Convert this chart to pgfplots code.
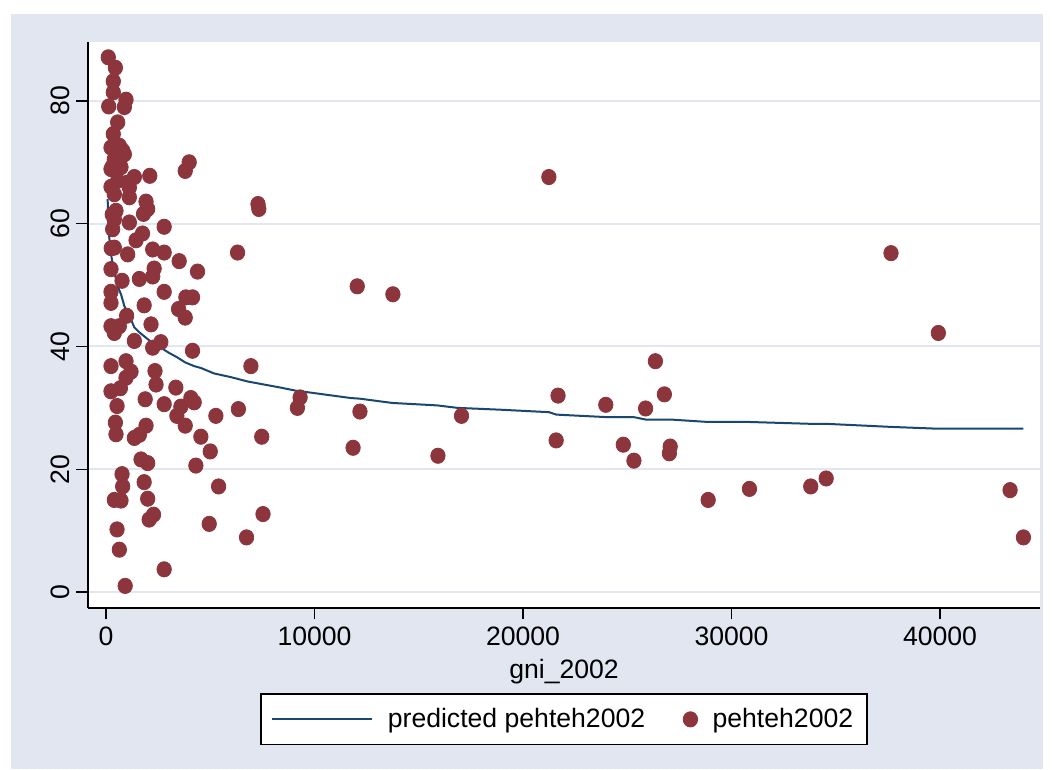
\documentclass[border=0pt]{standalone}
\usepackage{fontspec}
\setmainfont{Liberation Sans}
\usepackage{pgfplots}
\pgfplotsset{compat=1.18}
\pgfplotsset{mylegline/.style={legend image code/.code={\draw[##1] (0pt,0pt) -- (50pt,0pt);}}}
\definecolor{bgc}{RGB}{225,230,240}
\definecolor{navyc}{RGB}{26,71,111}
\definecolor{maroonc}{RGB}{140,53,60}
\begin{document}
\begin{tikzpicture}[font=\fontsize{13.3}{15.5}\selectfont]
\fill[white] (0,0) rectangle (526pt,384.5pt);
\fill[bgc] (5.5pt,0) rectangle (521.5pt,377.5pt);
\begin{axis}[
  at={(44pt,80.5pt)}, anchor=south west,
  scale only axis, width=476pt, height=283pt,
  xmin=-863, xmax=44796, ymin=-2.6, ymax=89.6,
  axis background/.style={fill=white},
  axis x line*=bottom, axis y line*=left,
  axis line style={line width=0.75pt, black},
  tick align=outside, major tick length=5.75pt,
  every tick/.style={line width=0.75pt, black},
  xtick={0,10000,20000,30000,40000},
  ytick={0,20,40,60,80},
  scaled x ticks=false,
  /pgf/number format/assume math mode=true,
  /pgf/number format/set thousands separator={},
  yticklabel style={rotate=90, anchor=south},
  ymajorgrids, grid style={bgc, line width=1pt},
  xlabel={gni\_2002},
  legend style={at={(0.5,-0.151)}, anchor=north, draw=black, line width=0.75pt, fill=white,
    inner xsep=5pt, inner ysep=5pt,
    legend columns=2,
    /tikz/every odd column/.append style={column sep=5.5pt},
    /tikz/every even column/.append style={column sep=17pt}},
  legend cell align=left,
]
\addplot[navyc, line width=1pt, mylegline] coordinates {
(80,64.0) (110,60.5) (150,58.0) (240,55.0) (320,53.5) (400,52.0) (480,51.0) (560,49.8)
(720,48.5) (880,46.6) (1040,45.5) (1200,44.4) (1360,43.1) (1600,42.3) (2000,41.2)
(2300,40.4) (2630,39.8) (3000,39.0) (3430,38.2) (3800,37.4) (4230,36.8) (4550,36.5)
(5190,35.6) (6000,35.0) (6790,34.3) (7420,33.9) (8380,33.3) (9100,32.8) (10000,32.4)
(11740,31.6) (12170,31.5) (13730,30.8) (15890,30.4) (16850,30.0) (18920,29.7)
(21240,29.3) (21600,28.9) (23970,28.5) (25300,28.5) (25880,28.1) (27060,28.1)
(28880,27.7) (30860,27.7) (33800,27.4) (34540,27.4) (37650,26.9) (39920,26.6)
(43360,26.6) (44000,26.6)
};
\addlegendentry{predicted pehteh2002}
\addplot[only marks, mark=*, color=maroonc, mark size=3.6pt, mark options={line width=0.4pt, yscale=1.06}] coordinates {
(110,87.1) (450,85.4) (350,83.2) (350,81.4) (960,80.2) (130,79.1) (880,79.0) (560,76.5)
(350,74.6) (240,72.4) (640,72.7) (800,71.9) (880,71.3) (400,70.5) (320,69.4) (720,69.2)
(240,68.9) (560,67.0) (1360,67.6) (2100,67.8) (240,66.0) (1040,66.7) (1120,65.9)
(400,64.8) (1120,64.3) (1920,63.6) (2000,62.4) (1800,61.6) (480,62.1) (400,60.7)
(1120,60.2) (320,59.1) (2790,59.5) (1750,58.4) (1440,57.3) (400,56.1) (2240,55.8)
(2790,55.3) (1040,55.0) (240,52.6) (2310,52.7) (1600,51.0) (2240,51.4) (770,50.7)
(240,48.9) (2790,48.9) (240,47.1) (1830,46.7) (990,45.0) (240,43.3) (640,43.3)
(2160,43.6) (400,42.2) (1360,40.9) (2630,40.7) (2240,39.8) (240,36.8) (960,37.6)
(1200,35.9) (2350,36.0) (960,34.9) (240,32.7) (690,33.2) (2400,33.8) (3350,33.3)
(1880,31.4) (2790,30.6) (530,30.3) (3400,28.7) (450,27.6) (1920,27.1) (480,25.7)
(1360,25.1) (1600,25.6) (1680,21.6) (2000,21.0) (770,19.2) (800,17.2) (1830,17.9)
(400,15.0) (720,14.9) (2000,15.2) (2280,12.6) (2070,11.8) (530,10.2) (640,6.9)
(2790,3.7) (920,1.0) (300,61.5) (250,56.0)
(3990,70.0) (3800,68.6) (7290,63.2) (7330,62.4) (6310,55.3) (3510,53.9) (4390,52.2)
(3830,48.0) (4150,48.0) (3480,46.1) (3800,44.7) (4150,39.3) (6950,36.8) (3590,30.2)
(4070,31.6) (4230,30.9) (6350,29.8) (5270,28.7) (3800,27.1) (4550,25.3) (7470,25.3)
(5000,22.9) (4310,20.6) (5400,17.2) (7530,12.7) (4950,11.1) (6740,8.9)
(12050,49.8) (13760,48.5) (9310,31.7) (9180,30.0) (12180,29.4) (17050,28.7)
(11850,23.5) (15920,22.2)
(21240,67.6) (37650,55.2) (39920,42.2) (26350,37.6) (21680,32.0) (26780,32.2)
(23970,30.5) (25880,29.9) (21590,24.7) (24810,24.0) (27060,23.7) (27020,22.6)
(25320,21.4) (34540,18.5) (33800,17.2) (30860,16.8) (28880,15.0) (43360,16.6)
(44000,8.9)
};
\addlegendentry{pehteh2002}
\end{axis}
\end{tikzpicture}
\end{document}
